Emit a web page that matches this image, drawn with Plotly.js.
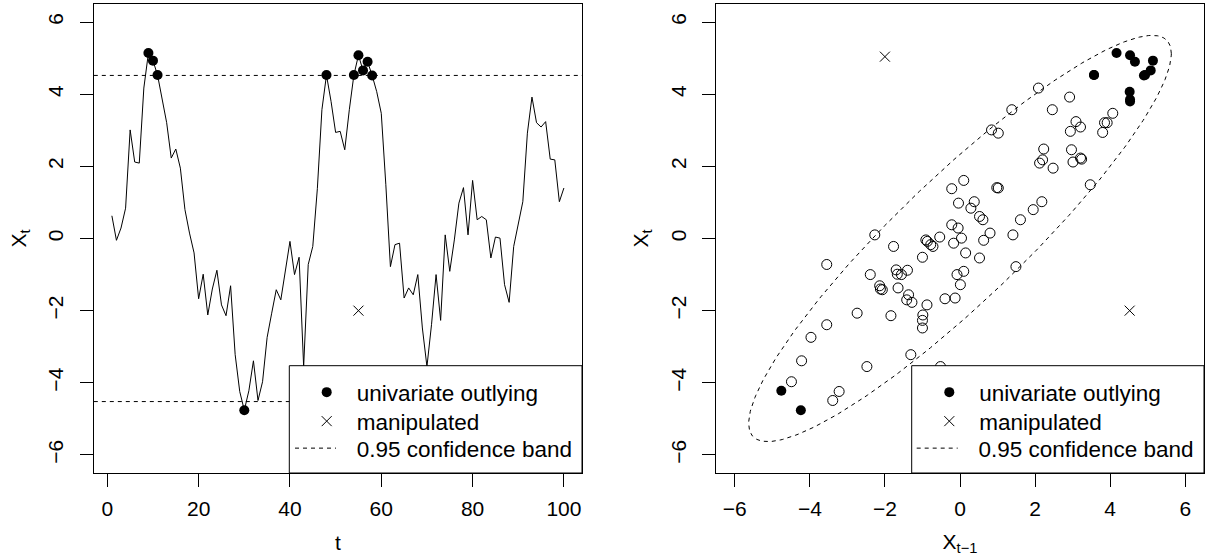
<!DOCTYPE html>
<html>
<head>
<meta charset="utf-8">
<script src="https://cdn.plot.ly/plotly-3.0.1.min.js"></script>
<style>
html, body { margin: 0; padding: 0; background: #ffffff; }
#chart { width: 1205px; height: 556px; }
</style>
</head>
<body>
<div id="chart"></div>
<script>
// ---------------- data ----------------
// observed series X_t, t = 1..100
const seriesX = [
  0.63, -0.05, 0.29, 0.84, 3.01, 2.12, 2.09, 4.17, 5.14, 4.93,
  4.53, 3.85, 3.21, 2.23, 2.48, 1.95, 0.80, 0.15, -0.40, -1.67,
  -0.99, -2.12, -1.40, -0.88, -1.84, -2.14, -1.31, -3.22, -4.24, -4.76,
  -4.22, -3.39, -4.49, -3.97, -2.74, -2.07, -1.42, -1.70, -0.87, -0.08,
  -1.00, -0.52, -3.55, -0.72, -0.22, 1.38, 3.57, 4.53, 3.80, 2.94,
  2.97, 2.46, 3.57, 4.53, 5.08, 4.66, 4.90, 4.52, 4.07, 3.47,
  1.49, -0.78, -0.17, -0.13, -1.65, -1.37, -1.56, -1.00, -2.48, -3.55,
  -2.39, -1.00, -2.27, 0.10, -0.91, -0.04, 0.98, 1.41, 0.10, 1.61,
  0.52, 0.61, 0.52, -0.54, 0.04, 0.01, -1.28, -1.77, -0.22, 0.38,
  1.02, 2.92, 3.92, 3.21, 3.09, 3.24, 2.20, 2.18, 1.02, 1.40
];
const timeIndex = seriesX.map((_, i) => i + 1);
// time points flagged as univariate outlying
const outlyingT = [9, 10, 11, 30, 48, 54, 55, 56, 57, 58];
// manipulated observation (left panel)
const manipT = [55];
const manipValue = [-2];
// manipulated pairs (right panel)
const manipLagX = [-2.0, 4.52];
const manipLagY = [5.04, -2.0];
// confidence band / ellipse parameters
const bandLevel = 4.52;
const ellipseRadius = 5.63;
const lagCorr = 0.91;
// tick labels
const xTicksLeft = [0, 20, 40, 60, 80, 100];
const xTicksRight = [-6, -4, -2, 0, 2, 4, 6];
const yTicks = [-6, -4, -2, 0, 2, 4, 6];
const legendLabels = ['univariate outlying', 'manipulated', '0.95 confidence band'];

// ---------------- derived ----------------
const outSet = new Set(outlyingT);
const lagOpenX = [], lagOpenY = [], lagFillX = [], lagFillY = [];
for (let t = 2; t <= seriesX.length; t++) {
  const px = seriesX[t - 2], py = seriesX[t - 1];
  if (outSet.has(t) || outSet.has(t - 1)) { lagFillX.push(px); lagFillY.push(py); }
  else { lagOpenX.push(px); lagOpenY.push(py); }
}
const ellX = [], ellY = [];
for (let k = 0; k <= 360; k++) {
  const th = k * Math.PI / 180;
  ellX.push(ellipseRadius * Math.cos(th));
  ellY.push(ellipseRadius * (lagCorr * Math.cos(th) + Math.sqrt(1 - lagCorr * lagCorr) * Math.sin(th)));
}

// ---------------- styling ----------------
const FONT = 'Liberation Sans, Arial, Helvetica, sans-serif';
const FS = 21;
const LFS = 22.5;
const W = 1205, H = 556;
const mT = 4, mB = 83;
const plotH = H - mT - mB;
const px2x = p => p / W;
const py2y = p => 1 - (p - mT) / plotH;
const dashStyle = '4px,4px';

const traces = [
  { x: timeIndex, y: seriesX, mode: 'lines', line: { color: '#000', width: 1 },
    xaxis: 'x', yaxis: 'y', showlegend: false, hoverinfo: 'skip' },
  { x: outlyingT, y: outlyingT.map(t => seriesX[t - 1]), mode: 'markers',
    marker: { symbol: 'circle', size: 10, color: '#000' },
    name: legendLabels[0], legend: 'legend', xaxis: 'x', yaxis: 'y' },
  { x: manipT, y: manipValue, mode: 'markers',
    marker: { symbol: 'x-thin-open', size: 10, color: '#000', line: { width: 1, color: '#000' } },
    name: legendLabels[1], legend: 'legend3', xaxis: 'x', yaxis: 'y' },
  { x: [null], y: [null], mode: 'lines', line: { color: '#000', width: 1, dash: dashStyle },
    name: '\u2002\u2009' + legendLabels[2], legend: 'legend4', xaxis: 'x', yaxis: 'y' },

  { x: lagOpenX, y: lagOpenY, mode: 'markers',
    marker: { symbol: 'circle-open', size: 10, color: '#000', line: { width: 1, color: '#000' } },
    showlegend: false, xaxis: 'x2', yaxis: 'y2' },
  { x: ellX, y: ellY, mode: 'lines', line: { color: '#000', width: 1, dash: dashStyle },
    showlegend: false, xaxis: 'x2', yaxis: 'y2', hoverinfo: 'skip' },
  { x: lagFillX, y: lagFillY, mode: 'markers',
    marker: { symbol: 'circle', size: 10, color: '#000' },
    name: legendLabels[0], legend: 'legend2', xaxis: 'x2', yaxis: 'y2' },
  { x: manipLagX, y: manipLagY, mode: 'markers',
    marker: { symbol: 'x-thin-open', size: 10, color: '#000', line: { width: 1, color: '#000' } },
    name: legendLabels[1], legend: 'legend5', xaxis: 'x2', yaxis: 'y2' },
  { x: [null], y: [null], mode: 'lines', line: { color: '#000', width: 1, dash: dashStyle },
    name: '\u2002\u2009' + legendLabels[2], legend: 'legend6', xaxis: 'x2', yaxis: 'y2' }
];

const axisBase = {
  showgrid: false, zeroline: false, showline: true, mirror: true,
  linecolor: '#000', linewidth: 1, ticks: 'outside', ticklen: 13, tickwidth: 1,
  tickcolor: '#000', tickfont: { family: FONT, size: FS, color: '#000' },
  tickmode: 'array', fixedrange: true
};

// xLeft: left edge of the legend item (px), rowCenter: vertical centre of the row (px)
function mkLegend(xLeft, rowCenter, iw) {
  return {
    bgcolor: 'rgba(0,0,0,0)', borderwidth: 0, orientation: 'v',
    font: { family: FONT, size: LFS, color: '#000' },
    itemwidth: iw,
    xanchor: 'left', yanchor: 'top', traceorder: 'normal',
    itemclick: false, itemdoubleclick: false,
    x: px2x(xLeft), y: py2y(rowCenter - 21)
  };
}
const rows = [392, 421, 448];
const titleFont = { family: FONT, size: FS, color: '#000' };

const layout = {
  width: W, height: H,
  margin: { l: 0, r: 0, t: mT, b: mB, pad: 0 },
  paper_bgcolor: '#fff', plot_bgcolor: '#fff',
  font: { family: FONT, size: FS, color: '#000' },
  showlegend: true,
  xaxis: Object.assign({}, axisBase, {
    domain: [px2x(93.8), px2x(582)], range: [-2.96, 103.96],
    tickvals: xTicksLeft, ticktext: xTicksLeft.map(String), anchor: 'y', ticklabelstandoff: 4,
    title: { text: 't', font: titleFont, standoff: 16 }
  }),
  yaxis: Object.assign({}, axisBase, {
    domain: [0, 1], range: [-6.5, 6.5], tickvals: yTicks, tickangle: -90, anchor: 'x',
    ticklabelstandoff: 8,
    title: { text: 'X<sub>t</sub>', font: titleFont, standoff: 12 }
  }),
  xaxis2: Object.assign({}, axisBase, {
    domain: [px2x(716), px2x(1204)], range: [-6.5, 6.5],
    tickvals: xTicksRight, anchor: 'y2', ticklabelstandoff: 4,
    title: { text: 'X<sub>t\u22121</sub>', font: titleFont, standoff: 16 }
  }),
  yaxis2: Object.assign({}, axisBase, {
    domain: [0, 1], range: [-6.5, 6.5], tickvals: yTicks, tickangle: -90, anchor: 'x2',
    ticklabelstandoff: 8,
    title: { text: 'X<sub>t</sub>', font: titleFont, standoff: 12 }
  }),
  legend: mkLegend(296.7, rows[0], 50),
  legend3: mkLegend(296.7, rows[1], 50),
  legend4: mkLegend(290, rows[2], 41),
  legend2: mkLegend(919.3, rows[0], 50),
  legend5: mkLegend(919.3, rows[1], 50),
  legend6: mkLegend(911.7, rows[2], 41),
  shapes: [
    { type: 'line', xref: 'x domain', yref: 'y', x0: 0, x1: 1, y0: bandLevel, y1: bandLevel,
      line: { color: '#000', width: 1, dash: dashStyle }, layer: 'below' },
    { type: 'line', xref: 'x domain', yref: 'y', x0: 0, x1: 1, y0: -bandLevel, y1: -bandLevel,
      line: { color: '#000', width: 1, dash: dashStyle }, layer: 'below' },
    { type: 'rect', xref: 'paper', yref: 'paper', x0: px2x(289.3), x1: px2x(582), y0: 0, y1: py2y(365.7),
      fillcolor: '#fff', line: { color: '#000', width: 1 }, layer: 'above' },
    { type: 'rect', xref: 'paper', yref: 'paper', x0: px2x(911.7), x1: px2x(1204), y0: 0, y1: py2y(365.7),
      fillcolor: '#fff', line: { color: '#000', width: 1 }, layer: 'above' }
  ]
};

Plotly.newPlot('chart', traces, layout, { staticPlot: true, displayModeBar: false });
</script>
</body>
</html>
